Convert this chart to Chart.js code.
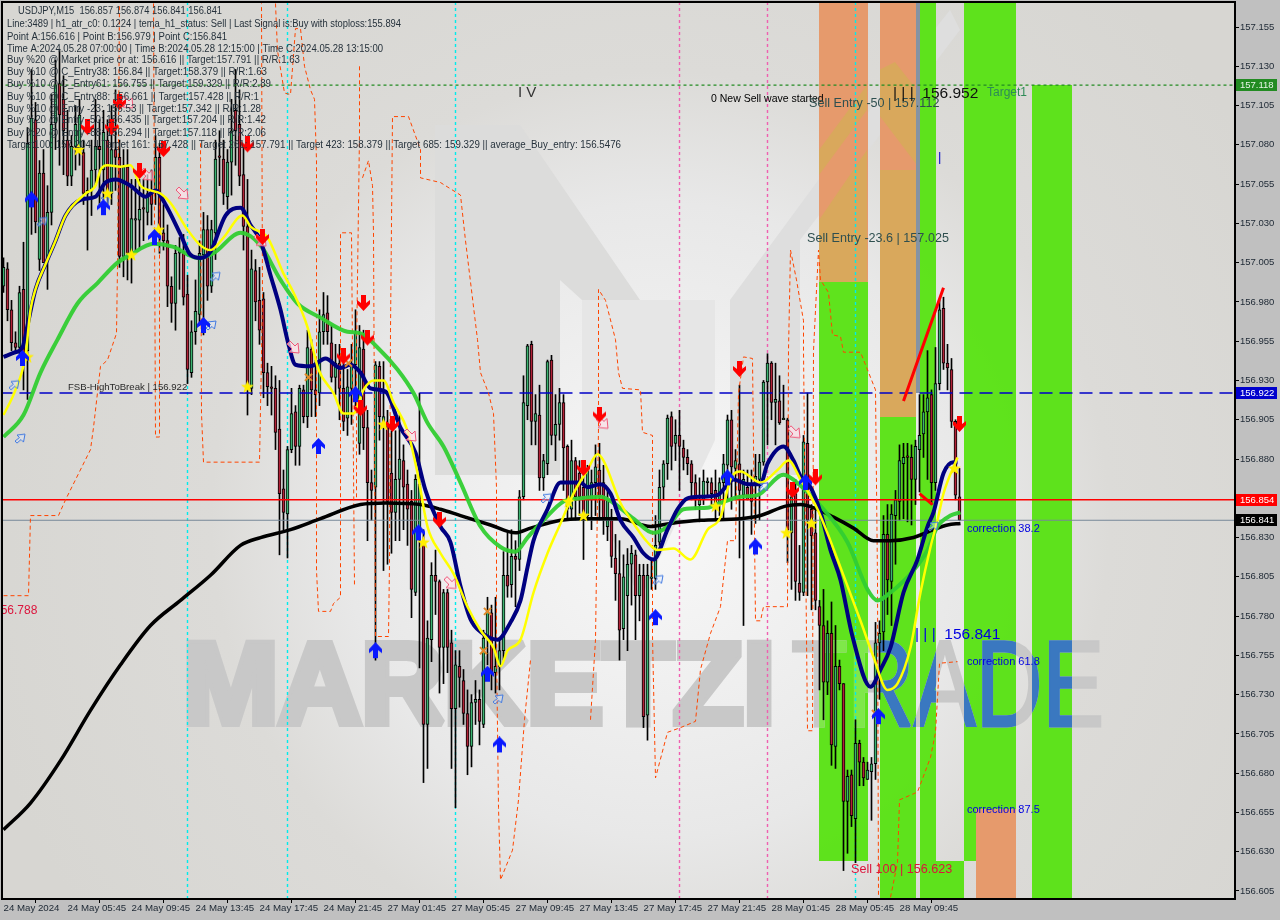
<!DOCTYPE html>
<html>
<head>
<meta charset="utf-8">
<title>USDJPY,M15</title>
<script src="https://cdn.jsdelivr.net/npm/chart.js@4/dist/chart.umd.min.js"></script>
<style>
  html, body { margin: 0; padding: 0; background: #c0c0c0; }
  canvas { display: block; }
</style>
</head>
<body>
<canvas id="grafico" width="1280" height="920"></canvas>
<script>
// ticks
const timeLabels = ["24 May 2024","24 May 05:45","24 May 09:45","24 May 13:45","24 May 17:45","24 May 21:45","27 May 01:45","27 May 05:45","27 May 09:45","27 May 13:45","27 May 17:45","27 May 21:45","28 May 01:45","28 May 05:45","28 May 09:45"];
const priceTicks = [156.605,156.63,156.655,156.68,156.705,156.73,156.755,156.78,156.805,156.83,156.855,156.88,156.905,156.93,156.955,156.98,157.005,157.03,157.055,157.08,157.105,157.13,157.155];

// candles, one value per 15 minute bar
const candleOpen = [156.990,157.001,156.975,156.954,156.951,156.988,156.949,157.049,157.096,157.007,
157.062,157.007,157.037,157.094,157.119,157.109,157.083,157.060,157.079,157.075,
157.075,157.049,157.051,157.064,157.079,157.064,157.083,157.049,157.077,157.072,
157.009,157.066,157.011,157.032,157.032,157.040,157.037,157.049,157.051,157.072,
157.024,157.019,156.990,156.979,157.011,157.012,156.985,156.935,156.961,156.972,
157.010,157.026,156.990,157.024,157.073,157.071,157.047,157.069,157.102,157.093,
157.061,157.028,156.925,157.000,156.981,156.982,156.935,156.926,156.925,156.899,
156.861,156.845,156.886,156.910,156.888,156.924,156.907,156.950,156.924,156.922,
156.961,156.973,156.954,156.932,156.941,156.925,156.906,156.925,156.940,156.890,
156.950,156.900,156.865,156.862,156.939,156.903,156.903,156.871,156.846,156.867,
156.879,156.864,156.853,156.795,156.832,156.827,156.711,156.765,156.806,156.802,
156.760,156.795,156.763,156.721,156.748,156.739,156.718,156.697,156.725,156.727,
156.711,156.766,156.782,156.744,156.748,156.758,156.806,156.800,156.818,156.816,
156.856,156.914,156.953,156.904,156.908,156.868,156.877,156.943,156.895,156.902,
156.916,156.888,156.848,156.879,156.871,156.862,156.844,156.854,156.865,156.873,
156.865,156.837,156.843,156.817,156.807,156.772,156.793,156.813,156.819,156.793,
156.806,156.717,156.804,156.804,156.827,156.862,156.877,156.907,156.890,156.895,
156.887,156.881,156.877,156.865,156.851,156.854,156.865,156.865,156.860,156.851,
156.865,156.876,156.905,156.874,156.877,156.857,156.862,156.864,156.864,156.867,
156.878,156.929,156.941,156.916,156.917,156.905,156.905,156.833,156.858,156.801,
156.795,156.890,156.848,156.833,156.786,156.774,156.738,156.769,156.697,156.748,
156.737,156.662,156.679,156.651,156.699,156.687,156.676,156.681,156.686,156.763,
156.770,156.832,156.802,156.844,156.853,156.877,156.882,156.881,156.867,156.886,
156.896,156.910,156.921,156.865,156.928,156.976,156.941,156.937,156.904,156.856];

const candleClose = [157.002,156.975,156.954,156.951,156.986,156.947,157.081,157.097,157.031,157.062,
157.005,157.037,157.093,157.118,157.099,157.089,157.060,157.079,157.093,157.099,
157.049,157.051,157.064,157.079,157.077,157.088,157.049,157.077,157.072,157.009,
157.066,157.011,157.033,157.033,157.039,157.039,157.049,157.042,157.072,157.026,
157.019,156.990,156.979,157.011,157.013,156.983,156.937,156.961,156.974,157.011,
157.026,156.990,157.026,157.071,157.072,157.049,157.069,157.089,157.089,157.060,
157.028,156.926,157.001,156.980,156.962,156.935,156.926,156.925,156.897,156.858,
156.846,156.886,156.909,156.888,156.925,156.907,156.951,156.924,156.921,156.961,
156.972,156.961,156.932,156.941,156.925,156.904,156.926,156.940,156.960,156.951,
156.900,156.865,156.860,156.940,156.907,156.907,156.853,156.846,156.867,156.880,
156.862,156.848,156.797,156.867,156.864,156.711,156.766,156.806,156.802,156.760,
156.795,156.760,156.721,156.749,156.741,156.718,156.697,156.725,156.727,156.713,
156.766,156.783,156.744,156.748,156.758,156.806,156.799,156.818,156.816,156.856,
156.916,156.952,156.904,156.909,156.868,156.879,156.942,156.895,156.902,156.916,
156.887,156.848,156.879,156.856,156.856,156.843,156.873,156.865,156.875,156.856,
156.841,156.854,156.818,156.807,156.771,156.805,156.813,156.820,156.793,156.806,
156.716,156.806,156.805,156.825,156.862,156.877,156.906,156.888,156.895,156.888,
156.881,156.877,156.865,156.854,156.854,156.866,156.866,156.858,156.851,156.865,
156.877,156.905,156.875,156.879,156.860,156.867,156.854,156.853,156.869,156.878,
156.929,156.941,156.916,156.918,156.903,156.906,156.835,156.856,156.802,156.795,
156.891,156.841,156.831,156.790,156.774,156.738,156.769,156.698,156.748,156.737,
156.662,156.678,156.653,156.699,156.687,156.677,156.682,156.686,156.763,156.769,
156.832,156.803,156.845,156.854,156.879,156.881,156.881,156.867,156.888,156.895,
156.910,156.919,156.865,156.928,156.975,156.941,156.938,156.904,156.857,156.841];

const candleHigh = [157.008,157.005,156.981,156.961,156.990,157.018,157.091,157.128,157.107,157.070,
157.077,157.054,157.112,157.134,157.140,157.124,157.102,157.086,157.105,157.109,
157.083,157.059,157.083,157.109,157.096,157.102,157.096,157.105,157.115,157.083,
157.077,157.077,157.058,157.058,157.058,157.058,157.061,157.064,157.086,157.081,
157.042,157.029,156.996,157.016,157.021,157.023,156.997,156.968,156.994,157.019,
157.037,157.035,157.032,157.083,157.089,157.083,157.077,157.109,157.128,157.115,
157.080,157.058,157.013,157.007,157.002,156.986,156.941,156.939,156.933,156.930,
156.873,156.888,156.925,156.914,156.927,156.927,156.962,156.956,156.943,156.975,
156.986,156.984,156.965,156.953,156.953,156.949,156.937,156.953,156.975,156.965,
156.962,156.911,156.873,156.942,156.942,156.942,156.911,156.898,156.898,156.908,
156.889,156.873,156.860,156.870,156.922,156.835,156.777,156.814,156.822,156.803,
156.797,156.797,156.771,156.758,156.758,156.746,156.733,156.730,156.739,156.733,
156.771,156.792,156.787,156.792,156.765,156.821,156.833,156.835,156.828,156.860,
156.933,156.953,156.955,156.921,156.927,156.883,156.943,156.946,156.921,156.925,
156.921,156.889,156.892,156.881,156.879,156.878,156.876,156.873,156.889,156.890,
156.876,156.860,156.848,156.832,156.828,156.819,156.823,156.825,156.822,156.813,
156.813,156.813,156.816,156.844,156.873,156.879,156.908,156.910,156.905,156.911,
156.892,156.886,156.879,156.870,156.868,156.873,156.868,156.868,156.873,156.868,
156.883,156.908,156.911,156.886,156.927,156.873,156.873,156.873,156.883,156.883,
156.930,156.947,156.942,156.941,156.933,156.927,156.906,156.860,156.867,156.825,
156.895,156.922,156.851,156.848,156.790,156.797,156.777,156.789,156.774,156.752,
156.737,156.682,156.682,156.714,156.701,156.690,156.687,156.690,156.776,156.777,
156.844,156.851,156.851,156.860,156.889,156.890,156.890,156.889,156.892,156.921,
156.921,156.949,156.924,156.951,156.981,156.983,156.953,156.944,156.905,156.874];

const candleLow = [156.986,156.968,156.949,156.947,156.947,156.924,156.918,157.023,157.024,157.000,
157.005,156.988,157.029,157.077,157.067,157.061,157.054,157.054,157.064,157.067,
157.042,157.013,157.035,157.054,157.042,157.045,157.042,157.042,157.051,157.002,
156.996,156.994,156.992,157.013,157.014,157.019,157.029,157.029,157.042,157.011,
157.013,156.977,156.967,156.962,156.988,156.978,156.928,156.932,156.953,156.965,
156.959,156.981,156.986,157.007,157.054,157.042,157.039,157.048,157.067,157.054,
157.013,156.908,156.921,156.968,156.953,156.919,156.914,156.908,156.886,156.819,
156.835,156.817,156.884,156.876,156.876,156.903,156.900,156.907,156.907,156.914,
156.953,156.953,156.929,156.921,156.905,156.898,156.895,156.902,156.914,156.883,
156.886,156.828,156.841,156.752,156.892,156.809,156.813,156.820,156.828,156.828,
156.835,156.825,156.779,156.793,156.747,156.674,156.683,156.751,156.781,156.731,
156.737,156.744,156.683,156.658,156.722,156.711,156.679,156.684,156.711,156.698,
156.709,156.749,156.733,156.731,156.733,156.752,156.792,156.792,156.786,156.809,
156.854,156.905,156.889,156.889,156.860,156.860,156.870,156.889,156.879,156.892,
156.860,156.841,156.842,156.841,156.844,156.816,156.841,156.835,156.844,156.841,
156.832,156.828,156.811,156.790,156.752,156.765,156.758,156.787,156.765,156.777,
156.709,156.701,156.797,156.797,156.825,156.854,156.867,156.873,156.879,156.860,
156.873,156.870,156.854,156.848,156.840,156.851,156.857,156.851,156.841,156.844,
156.841,156.854,156.848,156.854,156.817,156.774,156.854,156.832,156.839,156.841,
156.876,156.889,156.905,156.889,156.902,156.905,156.814,156.797,156.790,156.790,
156.793,156.793,156.784,156.784,156.733,156.714,156.730,156.685,156.683,156.733,
156.618,156.629,156.646,156.623,156.672,156.672,156.676,156.650,156.676,156.727,
156.758,156.781,156.774,156.813,156.841,156.842,156.840,156.838,156.851,156.859,
156.881,156.867,156.851,156.860,156.924,156.937,156.924,156.900,156.854,156.841];

// moving averages, read at a few spots along each curve
const blackMaX = [0,6.75,14.25,21.75,29.25,36.75,44.25,51.75,59.25,64.25,71.75,79.25,89.25,95.5,104.25,109.25,114.25,121.75,128,131.75,139.25,144.25,154.25,161.75,166.75,174.25,184.25,189.25,195.5,199.25,202.5,207.5,212.5,217.5,221.75,227.5,232.5,236,239.25];
const blackMaY = [156.644,156.661,156.688,156.720,156.749,156.774,156.790,156.806,156.825,156.830,156.835,156.842,156.851,156.852,156.851,156.848,156.844,156.838,156.833,156.836,156.841,156.842,156.842,156.837,156.839,156.841,156.842,156.844,156.850,156.851,156.849,156.843,156.836,156.828,156.828,156.830,156.835,156.838,156.839];

const navyMaX = [0,3,4.75,6,8,10.5,13,15.5,19.25,23,25.5,28,31.75,35.5,38,40.5,44.25,46.75,49.25,51.75,55.5,59.25,61.75,64.25,66.75,69.25,71.25,73,76.75,80.5,84.25,86.75,89.25,91.75,95.5,99.25,103,105.5,109.25,111.75,114.25,116.75,119.25,123.5,126.75,129.25,131,132.5,136,139.25,144.25,146,149.25,151.75,154.25,157.5,160,162.5,166,168.5,171,174.25,178.5,180.5,182.5,186,189.25,191,195,197.5,199.25,201.75,204.25,206.75,209.25,212.25,216.75,219.25,221.75,225,228.5,231,232.5,235,237.5,238.5];
const navyMaY = [156.945,156.948,156.951,156.965,156.988,157.004,157.019,157.035,157.045,157.047,157.056,157.058,157.054,157.047,157.051,157.042,157.023,157.010,157.008,157.012,157.035,157.040,157.029,157.019,156.997,156.975,156.953,156.940,156.939,156.944,156.938,156.940,156.935,156.925,156.923,156.900,156.884,156.860,156.837,156.827,156.799,156.778,156.770,156.765,156.776,156.790,156.811,156.828,156.848,156.865,156.865,156.862,156.864,156.858,156.841,156.830,156.820,156.816,156.835,156.848,156.855,156.856,156.857,156.862,156.867,156.864,156.864,156.877,156.888,156.879,156.869,156.862,156.846,156.822,156.803,156.767,156.735,156.746,156.760,156.795,156.816,156.837,156.846,156.871,156.878,156.878];

const yellowMaX = [0,3,5.5,6.75,8,10.5,13,15.5,20.5,23,24.25,26,29.25,31.75,34.25,36.75,39.25,41.75,46,49.25,51.75,55,59.75,61.75,66,70,72.5,76,78.75,82.5,85,87.5,90,92.5,95,97.5,101,103.5,106,109.25,112.5,116,119.25,122.5,124.25,126,129.25,132.5,136,139.25,142.5,146,148.5,150,154.25,157.5,161,163.5,167.5,171.75,176,179.25,181.75,184.25,189.25,193.5,196.25,199.25,203.5,209.25,214.25,217.5,221,223.5,226.75,229.25,231.75,233.5,235,238.5];
const yellowMaY = [156.908,156.924,156.946,156.975,156.988,157.004,157.019,157.035,157.049,157.054,157.064,157.067,157.066,157.067,157.054,157.051,157.049,157.043,157.026,157.016,157.013,157.021,157.035,157.028,157.021,156.998,156.986,156.964,156.937,156.922,156.909,156.909,156.924,156.930,156.930,156.916,156.898,156.871,156.837,156.820,156.807,156.786,156.771,156.760,156.748,156.758,156.765,156.795,156.820,156.839,156.858,156.873,156.883,156.879,156.852,156.839,156.827,156.822,156.823,156.816,156.835,156.843,156.867,156.872,156.865,156.873,156.879,156.867,156.848,156.811,156.777,156.754,156.733,156.737,156.760,156.795,156.824,156.841,156.858,156.881];

const greenMaX = [0,5,9.25,13.5,18.5,23.5,28.5,31.75,37.5,42.5,48.5,52.5,59.25,64.25,69.25,73.5,79.25,86,89.25,93.5,98.5,102.5,106,110,114.25,119.25,124.25,128,131,135,140,144.25,149.25,152.5,157.5,162.5,166,170,176,179.25,184.25,188.5,195,199.25,205,211,216,218.5,221.75,227.5,231,233.5,236.75,239.25];
const greenMaY = [156.894,156.908,156.935,156.956,156.979,156.992,157.005,157.010,157.017,157.015,157.008,157.011,157.024,157.016,156.994,156.979,156.970,156.961,156.960,156.951,156.937,156.922,156.903,156.888,156.865,156.837,156.824,156.821,156.830,156.841,156.853,156.855,156.856,156.852,156.842,156.833,156.837,156.848,156.849,156.852,156.856,156.857,156.870,156.863,156.848,156.827,156.797,156.790,156.795,156.809,156.822,156.837,156.844,156.846];

// orange stepped band, null marks a break in the line
const bandX = [0,6.25,6.75,13.75,15.5,21.75,22.5,24.25,26,28.25,28.5,29,null,37.5,38,39,39,null,49.25,49.5,50,64,64.75,64.5,null,68,68.5,70.25,71.75,73,74.25,75.25,76.75,77.75,78.25,78.25,78.75,81.75,82.5,84.25,84.25,87,87.75,null,89,89,88.25,88.25,null,89.75,91.25,92.25,92.5,93,96.25,96.5,96.75,97.25,101.25,102.25,104.25,104.25,109.25,114.25,115.5,118.5,119.25,121.25,122.5,123.25,123.25,123.75,124.25,127.25,128.75,130.25,131.75,null,146.75,148,148.75,148.75,150.5,153,153.75,154.75,159.25,159.75,162.25,162.25,163,166,169.25,173,174.25,176.75,179.25,181,183,183.75,185,187.25,188,189.25,190,196,196.25,196.75,198.25,200,200,201,202.25,202.5,203.75,204.25,206.25,207.25,209.25,210,214.25,215.5,218,218.5,218.75,null,221.75,223.5,224,228.5,231.75,233,234,238.5];
const bandY = [156.793,156.793,156.844,156.844,156.854,156.886,156.900,156.939,156.943,156.960,157.002,157.170,null,157.170,156.894,156.894,157.070,null,157.081,156.909,156.878,156.878,156.981,157.170,null,157.170,157.140,157.113,157.112,157.154,157.154,157.130,157.115,157.109,157.070,156.809,156.783,156.783,156.788,156.792,157.024,157.024,156.799,null,157.130,157.087,156.949,156.854,null,157.059,157.070,157.054,157.024,156.767,156.767,156.814,156.962,157.098,157.098,157.091,157.077,157.059,157.056,157.048,157.019,156.956,156.935,156.922,156.909,156.862,156.760,156.658,156.612,156.631,156.663,156.714,156.752,null,156.714,156.765,156.900,156.988,156.981,156.956,156.935,156.925,156.924,156.897,156.895,156.767,156.677,156.706,156.709,156.713,156.746,156.769,156.786,156.828,156.828,156.922,156.945,156.944,156.777,156.777,156.786,156.786,156.949,157.013,156.994,156.968,156.949,156.707,156.707,156.949,157.013,156.994,156.986,156.959,156.958,156.948,156.948,156.940,156.924,156.803,156.601,null,156.601,156.623,156.663,156.668,156.690,156.706,156.750,156.751];

// price levels
const targetLevel = 157.118;
const breakLevel = 156.922;
const redLevel = 156.854;
const bidLevel = 156.841;

// vertical time separators
const cyanBars = [46,71,113,213];
const pinkBars = [169,191];

// zones: candle from, candle to, price top, price bottom
const greenFrom = [204,219,229,233,240,257];
const greenTo = [216,228,233,240,253,267];
const greenTop = [156.993,156.907,157.170,156.624,157.170,157.118];
const greenBottom = [156.624,156.600,156.600,156.600,156.624,156.600];
const orangeFrom = [204,219,243];
const orangeTo = [216,228,253];
const orangeTop = [157.170,157.170,156.657];
const orangeBottom = [156.993,156.907,156.600];
const greyFrom = [228];
const greyTo = [229];
const greyTop = [157.170];
const greyBottom = [156.922];

// signals
const redArrowX = [21,27,29,34,40,61,64.75,90,91,85,89.25,97.25,109,145,149,184,197.25,203,239];
const redArrowY = [157.091,157.091,157.107,157.063,157.077,157.080,157.021,156.979,156.957,156.945,156.912,156.902,156.841,156.874,156.908,156.937,156.860,156.868,156.902];
const blueArrowX = [7,25,4.75,37.75,50,88,78.75,93,103.75,121,124,163,188,181,200.5,218.75];
const blueArrowY = [157.045,157.040,156.944,157.021,156.965,156.921,156.888,156.758,156.833,156.743,156.698,156.779,156.824,156.868,156.865,156.716];
const starX = [18.75,6,26,32,38.75,61,95,105,141.25,145,178,195.75,202,237.75];
const starY = [157.077,156.945,157.049,157.010,157.026,156.926,156.902,156.827,156.853,156.844,156.850,156.833,156.839,156.874];
const crossX = [76.25,86.25,121,120,218];
const crossY = [156.932,156.941,156.783,156.758,156.718];
const pinkOutlineX = [44.75,31,36,72.5,101.75,111.75,149.75,197.75,64.25];
const pinkOutlineY = [157.049,157.107,157.061,156.951,156.895,156.801,156.903,156.897,157.019];
const blueOutlineX = [9.75,2.75,4.25,53,52,25.25,135.75,163.75,190,123.75,232.5];
const blueOutlineY = [157.031,156.927,156.893,156.996,156.965,157.044,156.855,156.803,156.862,156.727,156.837];

// red wave legs
const waveX = [225,235,null,229,232.25];
const waveY = [156.917,156.989,null,156.858,156.851];

const infoLines = [
  "Line:3489 | h1_atr_c0: 0.1224 | tema_h1_status: Sell | Last Signal is:Buy with stoploss:155.894",
  "Point A:156.616 | Point B:156.979 | Point C:156.841",
  "Time A:2024.05.28 07:00:00 | Time B:2024.05.28 12:15:00 | Time C:2024.05.28 13:15:00",
  "Buy %20 @ Market price or at: 156.616 || Target:157.791 || R/R:1.63",
  "Buy %10 @ C_Entry38: 156.84 || Target:158.379 || R/R:1.63",
  "Buy %10 @ C_Entry61: 156.755 || Target:159.329 || R/R:2.89",
  "Buy %10 @ C_Entry88: 156.661 || Target:157.428 || R/R:1",
  "Buy %10 @ Entry -23: 156.53 || Target:157.342 || R/R:1.28",
  "Buy %20 @ Entry -50: 156.435 || Target:157.204 || R/R:1.42",
  "Buy %20 @ Entry -88: 156.294 || Target:157.118 || R/R:2.06",
  "Target100: 157.204 || Target 161: 157.428 || Target 261: 157.791 || Target 423: 158.379 || Target 685: 159.329 || average_Buy_entry: 156.5476"
];

const UI_FONT = '"Liberation Sans", sans-serif';

function pares(xs, ys) {
  return xs.map((x, i) => ({ x: x, y: ys[i] }));
}

function nuevoLienzo(w, h, dibujar) {
  const c = document.createElement("canvas");
  c.width = w;
  c.height = h;
  dibujar(c.getContext("2d"));
  return c;
}

function poligono(ctx, puntos, relleno, trazo) {
  ctx.beginPath();
  puntos.forEach((p, i) => (i ? ctx.lineTo(p[0], p[1]) : ctx.moveTo(p[0], p[1])));
  ctx.closePath();
  if (relleno) { ctx.fillStyle = relleno; ctx.fill(); }
  if (trazo) { ctx.strokeStyle = trazo; ctx.lineWidth = 1; ctx.stroke(); }
}

const redArrow = nuevoLienzo(15, 17, (ctx) => {
  poligono(ctx, [[5,0],[10,0],[10,8],[14,5],[14,9],[7.5,16],[1,9],[1,5],[5,8]], "#ff0000");
});
const blueArrow = nuevoLienzo(15, 17, (ctx) => {
  poligono(ctx, [[5,16],[10,16],[10,8],[14,11],[14,7],[7.5,0],[1,7],[1,11],[5,8]], "#0a1aff");
});
const starMark = nuevoLienzo(13, 13, (ctx) => {
  poligono(ctx, [[6.5,0],[8.2,4.6],[13,4.7],[9.2,7.7],[10.6,12.5],[6.5,9.7],[2.4,12.5],[3.8,7.7],[0,4.7],[4.8,4.6]], "#ffee00");
});
const pinkOutline = nuevoLienzo(15, 15, (ctx) => {
  poligono(ctx, [[1,4],[4,1],[9,6],[12,3],[13,13],[3,12],[6,9]], "rgba(255,225,232,0.7)", "#ee5577");
});
const blueOutline = nuevoLienzo(13, 13, (ctx) => {
  poligono(ctx, [[1,9],[3,11],[7,7.5],[9.5,10],[11,2],[3,3],[5.5,5.5]], "rgba(225,235,255,0.4)", "#3f78e0");
});

const candleIndex = candleOpen.map((v, i) => i);
const bodyColors = candleOpen.map((v, i) => (candleClose[i] >= v ? "#3cb371" : "#b22238"));

function cajaZona(x, y, from, to, top, bottom, i) {
  const x0 = Math.round(x.getPixelForValue(from[i]));
  const x1 = Math.round(x.getPixelForValue(to[i]));
  const y0 = Math.round(y.getPixelForValue(top[i]));
  const y1 = Math.round(y.getPixelForValue(bottom[i]));
  return [x0, y0, x1 - x0, y1 - y0];
}

function zonas(ctx, x, y, from, to, top, bottom, color) {
  ctx.fillStyle = color;
  from.forEach((f, i) => ctx.fillRect(...cajaZona(x, y, from, to, top, bottom, i)));
}

function textoAncho(ctx, texto, x, y, ancho, font, color, grosor) {
  ctx.save();
  ctx.font = font;
  ctx.fillStyle = color;
  ctx.textBaseline = "alphabetic";
  ctx.textAlign = "left";
  const m = ctx.measureText(texto).width;
  ctx.translate(x, y);
  ctx.scale(ancho / m, 1);
  if (grosor) {
    ctx.strokeStyle = color;
    ctx.lineWidth = grosor;
    ctx.lineJoin = "miter";
    ctx.miterLimit = 2;
    ctx.strokeText(texto, 0, 0);
  }
  ctx.fillText(texto, 0, 0);
  ctx.restore();
}

function marcaDeAgua(ctx, area) {
  const grad = ctx.createRadialGradient(660, 520, 40, 660, 520, 700);
  grad.addColorStop(0, "#f6f6f6");
  grad.addColorStop(0.42, "#e8e8e8");
  grad.addColorStop(0.62, "#dcdbd8");
  grad.addColorStop(1, "#d7d6d2");
  ctx.fillStyle = grad;
  ctx.fillRect(area.left, area.top, area.width, area.height);

  ctx.save();
  ctx.beginPath();
  ctx.rect(area.left, area.top, area.width, area.height);
  ctx.clip();
  poligono(ctx, [[435,125],[520,125],[640,300],[582,300],[560,280],[560,475],[435,475]], "#dcdcdb");
  poligono(ctx, [[582,300],[715,300],[715,440],[640,600],[582,470]], "#e6e6e6");
  poligono(ctx, [[730,300],[870,110],[950,10],[960,30],[800,240],[800,475],[730,475]], "#dedede");
  ctx.restore();
}

const pluginFondo = {
  id: "fondo",
  beforeDraw(chart) {
    const { ctx, chartArea: area } = chart;
    ctx.save();
    ctx.fillStyle = "#c0c0c0";
    ctx.fillRect(0, 0, chart.width, chart.height);
    marcaDeAgua(ctx, area);
    ctx.restore();
  },
  beforeDatasetsDraw(chart) {
    const { ctx, scales } = chart;
    const x = scales.x;
    const y = scales.y;
    ctx.save();
    zonas(ctx, x, y, greenFrom, greenTo, greenTop, greenBottom, "rgba(90,226,22,0.97)");
    zonas(ctx, x, y, orangeFrom, orangeTo, orangeTop, orangeBottom, "#e69a6c");
    zonas(ctx, x, y, greyFrom, greyTo, greyTop, greyBottom, "#8593a3");

    // el logotipo se transparenta en las zonas naranjas de arriba
    ctx.save();
    ctx.beginPath();
    [0, 1].forEach((i) => ctx.rect(...cajaZona(x, y, orangeFrom, orangeTo, orangeTop, orangeBottom, i)));
    ctx.clip();
    poligono(ctx, [[819,150],[867,85],[867,110],[819,175]], "#d9a85c");
    poligono(ctx, [[819,220],[867,150],[867,282],[819,282]], "#d9a85c");
    poligono(ctx, [[879,70],[895,62],[917,90],[917,165],[879,115]], "#d9a85c");
    poligono(ctx, [[879,170],[917,170],[917,417],[879,417]], "#d9a85c");
    ctx.restore();

    const bold = "bold 115px " + UI_FONT;
    const thin = "122px " + UI_FONT;
    textoAncho(ctx, "MARKETZI", 183, 723, 592, bold, "#c8c8c8", 8);
    textoAncho(ctx, "TRADE", 791, 726, 313, thin, "#c8c8c8", 3);

    // sobre la primera zona verde el logotipo sale verde claro, en las demas azul
    ctx.save();
    ctx.beginPath();
    ctx.rect(...cajaZona(x, y, greenFrom, greenTo, greenTop, greenBottom, 0));
    ctx.clip();
    textoAncho(ctx, "TRADE", 791, 726, 313, thin, "#7fe84a", 3);
    ctx.restore();

    ctx.beginPath();
    [1, 2, 3, 4, 5].forEach((i) => ctx.rect(...cajaZona(x, y, greenFrom, greenTo, greenTop, greenBottom, i)));
    ctx.clip();
    textoAncho(ctx, "TRADE", 791, 726, 313, thin, "#3a78c0", 3);
    ctx.restore();
  }
};

function escribe(ctx, texto, x, y, font, color) {
  ctx.font = font;
  ctx.fillStyle = color;
  ctx.textAlign = "left";
  ctx.textBaseline = "middle";
  ctx.fillText(texto, x, y);
}

function etiquetaPrecio(ctx, y, valor, fondo, color) {
  const py = Math.round(y.getPixelForValue(valor));
  ctx.fillStyle = fondo;
  ctx.fillRect(1236, py - 6, 41, 12);
  ctx.font = "9.5px " + UI_FONT;
  ctx.fillStyle = color;
  ctx.textAlign = "left";
  ctx.textBaseline = "middle";
  ctx.fillText(valor.toFixed(3), 1240, py + 0.5);
}

const pluginTextos = {
  id: "textos",
  afterDatasetsDraw(chart) {
    const { ctx, chartArea: area, scales } = chart;
    ctx.save();
    ctx.beginPath();
    ctx.rect(area.left, area.top, area.width, area.height);
    ctx.clip();

    const ink = "#26323c";
    const cuerpo = "10px " + UI_FONT;
    textoAncho(ctx, "USDJPY,M15  156.857 156.874 156.841 156.841", 18, 14, 204, cuerpo, ink);
    const alturas = [26.5, 39.5, 51.5, 63, 74.5, 86.5, 99.5, 111.5, 123, 135.5, 147.5];
    const finales = [401, 227, 383, 300, 267, 271, 259, 261, 266, 266, 621];
    infoLines.forEach((t, i) => textoAncho(ctx, t, 7, alturas[i], finales[i] - 7, cuerpo, ink));

    escribe(ctx, "I V", 518, 93, "15px " + UI_FONT, "#333333");
    escribe(ctx, "0 New Sell wave started", 711, 99, "10.5px " + UI_FONT, "#000000");
    escribe(ctx, "Sell Entry -50 | 157.112", 809, 104, "12.6px " + UI_FONT, "#2f4f4f");
    escribe(ctx, "| | |  156.952", 893, 94, "15.5px " + UI_FONT, "#111111");
    escribe(ctx, "Target1", 987, 93, "12px " + UI_FONT, "#2e8b57");
    escribe(ctx, "|", 938, 157, "13px " + UI_FONT, "#0000cd");
    escribe(ctx, "Sell Entry -23.6 | 157.025", 807, 239, "12.6px " + UI_FONT, "#2f4f4f");
    escribe(ctx, "FSB-HighToBreak | 156.922", 68, 387, "9.6px " + UI_FONT, "#2a2a2a");
    escribe(ctx, "156.788", -6, 611, "12px " + UI_FONT, "#dc143c");
    escribe(ctx, "| | |  156.841", 915, 635, "15.5px " + UI_FONT, "#0000e0");
    escribe(ctx, "correction 38.2", 967, 529, "11px " + UI_FONT, "#0000e0");
    escribe(ctx, "correction 61.8", 967, 662, "11px " + UI_FONT, "#0000e0");
    escribe(ctx, "correction 87.5", 967, 810, "11px " + UI_FONT, "#0000e0");
    escribe(ctx, "Sell 100 | 156.623", 851, 870, "12.6px " + UI_FONT, "#dc143c");
    ctx.restore();

    ctx.save();
    ctx.strokeStyle = "#000000";
    ctx.lineWidth = 2;
    ctx.strokeRect(area.left - 1, area.top - 1, area.width + 1, area.height + 1);
    etiquetaPrecio(ctx, scales.y, targetLevel, "#228b22", "#e8f5e8");
    etiquetaPrecio(ctx, scales.y, breakLevel, "#0000cd", "#ffffff");
    etiquetaPrecio(ctx, scales.y, redLevel, "#ff0000", "#ffffff");
    etiquetaPrecio(ctx, scales.y, bidLevel, "#000000", "#ffffff");
    ctx.restore();
  }
};

function nivel(valor, color, dash, ancho) {
  return {
    type: "line",
    data: [{ x: -1, y: valor }, { x: 308, y: valor }],
    borderColor: color,
    borderWidth: ancho || 1,
    borderDash: dash,
    pointRadius: 0
  };
}

function curva(xs, ys, color, ancho) {
  return {
    type: "line",
    data: pares(xs, ys),
    borderColor: color,
    borderWidth: ancho,
    pointRadius: 0,
    cubicInterpolationMode: "monotone"
  };
}

function marcas(xs, ys, estilo) {
  return {
    type: "line",
    showLine: false,
    data: pares(xs, ys),
    pointStyle: estilo,
    pointRadius: 6
  };
}

function verticales(xs, color) {
  const datos = [];
  xs.forEach((x) => {
    datos.push({ x: x, y: 156.5999 }, { x: x, y: 157.1703 }, { x: x, y: null });
  });
  return { type: "line", data: datos, borderColor: color, borderWidth: 1.4, borderDash: [3, 3], pointRadius: 0 };
}

// Chart.js pinta primero el ultimo dataset, el de arriba queda encima
const datasets = [
  marcas(redArrowX, redArrowY, redArrow),
  marcas(blueArrowX, blueArrowY, blueArrow),
  marcas(starX, starY, starMark),
  Object.assign(marcas(crossX, crossY, "crossRot"), { borderColor: "#e08a2a", borderWidth: 2, pointRadius: 5 }),
  marcas(pinkOutlineX, pinkOutlineY, pinkOutline),
  marcas(blueOutlineX, blueOutlineY, blueOutline),
  { type: "line", data: pares(waveX, waveY), borderColor: "#ff0000", borderWidth: 3, pointRadius: 0 },
  curva(yellowMaX, yellowMaY, "#ffff00", 2.5),
  curva(navyMaX, navyMaY, "#000080", 4),
  curva(greenMaX, greenMaY, "rgba(50,205,50,0.95)", 4),
  curva(blackMaX, blackMaY, "#000000", 3.5),
  { type: "line", data: pares(bandX, bandY), borderColor: "#ff4500", borderWidth: 1, borderDash: [4, 3], pointRadius: 0 },
  nivel(redLevel, "#ff0000", [], 1.5),
  nivel(bidLevel, "#778899", []),
  nivel(breakLevel, "#0000c8", [13, 7], 1.5),
  nivel(targetLevel, "#228b22", [3, 3], 1.2),
  {
    type: "bar",
    data: candleIndex.map((i) => ({ x: i, y: [candleOpen[i], candleClose[i]] })),
    backgroundColor: bodyColors,
    borderColor: "#000000",
    borderWidth: 1,
    borderSkipped: false,
    barThickness: 3
  },
  {
    type: "bar",
    data: candleIndex.map((i) => ({ x: i, y: [candleLow[i], candleHigh[i]] })),
    backgroundColor: "#000000",
    barThickness: 1
  },
  verticales(cyanBars, "#00ecec"),
  verticales(pinkBars, "#f060b0")
];

new Chart(document.getElementById("grafico"), {
  type: "line",
  data: { datasets: datasets },
  plugins: [pluginFondo, pluginTextos],
  options: {
    responsive: false,
    animation: false,
    devicePixelRatio: 1,
    events: [],
    // sin autoPadding, si no el radio de los puntos empuja el area del grafico
    layout: { autoPadding: false, padding: { left: 3, top: 3, right: 0, bottom: 0 } },
    datasets: { bar: { grouped: false } },
    plugins: { legend: { display: false }, tooltip: { enabled: false }, title: { display: false } },
    scales: {
      x: {
        type: "linear",
        offset: false,
        // medio pixel de margen para que velas de 1 y 3 px caigan en pixel entero
        min: -0.125,
        max: 307.875,
        afterFit(scale) {
          scale.height = 21;
          scale.paddingLeft = 0;
          scale.paddingRight = 0;
        },
        afterBuildTicks(scale) {
          scale.ticks = timeLabels.map((t, i) => ({ value: i * 16 }));
        },
        grid: { drawOnChartArea: false, drawTicks: true, tickLength: 4, color: "#000000" },
        border: { display: false },
        ticks: {
          autoSkip: false,
          maxRotation: 0,
          align: "start",
          padding: 0,
          color: "#1c2733",
          font: { family: UI_FONT, size: 9.7 },
          callback(value) { return timeLabels[value / 16]; }
        }
      },
      y: {
        type: "linear",
        position: "right",
        min: 156.5999,
        max: 157.1703,
        afterFit(scale) {
          scale.width = 45;
          scale.paddingTop = 0;
          scale.paddingBottom = 0;
        },
        afterBuildTicks(scale) {
          scale.ticks = priceTicks.map((v) => ({ value: v }));
        },
        grid: { drawOnChartArea: false, drawTicks: true, tickLength: 4, color: "#000000" },
        border: { display: false },
        ticks: {
          autoSkip: false,
          padding: 1,
          color: "#1c2733",
          font: { family: UI_FONT, size: 9.5 },
          callback(value) { return Number(value).toFixed(3); }
        }
      }
    }
  }
});
</script>
</body>
</html>
